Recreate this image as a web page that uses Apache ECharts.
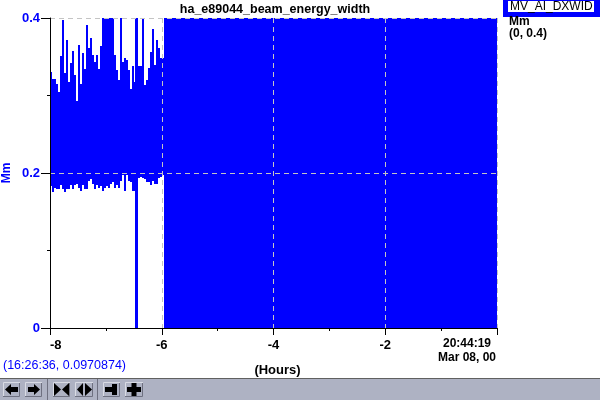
<!DOCTYPE html>
<html><head><meta charset="utf-8">
<style>html,body{margin:0;padding:0;background:#fff}#c{width:600px;height:400px}</style>
<script src="https://cdn.jsdelivr.net/npm/echarts@6/dist/echarts.min.js"></script>
</head><body><div id="c"></div>
<script>
const chartTitle = 'ha_e89044_beam_energy_width';
const xTickLabels = {'-8':'-8','-6':'-6','-4':'-4','-2':'-2'};
const yTickLabels = {'0':'0','0.2':'0.2','0.4':'0.4'};
const columnHours = 0.0358;
const columnHigh = [.330,.321,.321,.315,.305,.351,.397,.329,.372,.318,.342,.357,.327,.293,.365,.315,.355,.334,.391,.361,.374,.352,.343,.352,.334,.364,.400,.400,.400,.400,.400,.400,.352,.333,.320,.400,.343,.348,.346,.333,.309,.338,.317,.400,.338,.338,.400,.313,.320,.335,.356,.386,.339,.372,.361,.348,.348];
const columnLow = [.183,.176,.181,.180,.180,.184,.179,.175,.180,.179,.184,.180,.184,.186,.181,.177,.184,.179,.179,.190,.192,.186,.180,.184,.181,.183,.177,.181,.183,.181,.186,.188,.181,.185,.181,.190,.198,.177,.198,.190,.188,.177,.177,.177,.194,.195,.194,.192,.188,.189,.184,.190,.186,.186,.193,.195,.197];
const dropout = [-6.479,-6.425,0,.4];
const saturated = [-5.96,0,0,.4];
const rows = columnHigh.map((h,i)=>[-8+i*columnHours,-8+(i+1)*columnHours,columnLow[i],h]);
rows.push(dropout,saturated);

const blue='#0000ff', bar='#aeb2c3', hi='#d9dbe4', lo='#6e7080';
const F='"Liberation Sans",Arial,sans-serif';
function btn(x,w){return [
 {type:'rect',shape:{x:x,y:382,width:w,height:15},style:{fill:bar,stroke:null}},
 {type:'polyline',shape:{points:[[x+.5,397],[x+.5,382.5],[x+w,382.5]]},style:{stroke:hi,fill:null,lineWidth:1}},
 {type:'polyline',shape:{points:[[x+w-.5,383],[x+w-.5,396.5],[x,396.5]]},style:{stroke:lo,fill:null,lineWidth:1}}
];}
function poly(p){return {type:'polygon',shape:{points:p},style:{fill:'#000'}};}
const graphics=[
 {type:'rect',shape:{x:0,y:378,width:600,height:22},style:{fill:bar}},
 {type:'rect',shape:{x:0,y:378,width:600,height:1},style:{fill:'#606060'}},
 {type:'rect',shape:{x:47,y:379,width:1,height:21},style:{fill:lo}},
 {type:'rect',shape:{x:97,y:379,width:1,height:21},style:{fill:lo}},
 ...btn(3,17),...btn(25,17),...btn(53,17),...btn(75,18),...btn(103,17),...btn(125,18),
 poly([[5,389.5],[11,384],[11,387],[18,387],[18,392],[11,392],[11,395]]),
 poly([[40,389.5],[34,384],[34,387],[28,387],[28,392],[34,392],[34,395]]),
 poly([[54,383],[61,389.5],[54,396]]), poly([[69,383],[62,389.5],[69,396]]),
 poly([[83,383],[77,389.5],[83,396]]), poly([[85,383],[92,389.5],[85,396]]),
 {type:'rect',shape:{x:105,y:387,width:12,height:5},style:{fill:'#000'}},
 {type:'rect',shape:{x:112,y:384,width:5,height:11},style:{fill:'#000'}},
 {type:'rect',shape:{x:127,y:387,width:14,height:5},style:{fill:'#000'}},
 {type:'rect',shape:{x:131.5,y:383,width:5,height:13},style:{fill:'#000'}},
 {type:'rect',shape:{x:503,y:0,width:97,height:17},style:{fill:blue}},
 {type:'rect',shape:{x:508,y:1,width:86,height:11},style:{fill:'#fff'}},
 {type:'text',style:{x:510,y:7,text:'MV_AI_DXWID',font:'12px '+F,fill:'#000',textVerticalAlign:'middle'}},
 {type:'text',style:{x:509,y:22,text:'Mm',font:'bold 12px '+F,fill:'#000',textVerticalAlign:'middle'}},
 {type:'text',style:{x:509,y:34,text:'(0, 0.4)',font:'bold 12px '+F,fill:'#000',textVerticalAlign:'middle'}},
 {type:'text',style:{x:3,y:366,text:'(16:26:36, 0.0970874)',font:'12.5px '+F,fill:blue,textVerticalAlign:'middle'}},
 {type:'text',style:{x:467,y:344,text:'20:44:19',font:'bold 12px '+F,fill:'#000',textAlign:'center',textVerticalAlign:'middle'}},
 {type:'text',style:{x:467,y:358,text:'Mar 08, 00',font:'bold 12px '+F,fill:'#000',textAlign:'center',textVerticalAlign:'middle'}}
];
const dashes={show:true,showMinLine:true,showMaxLine:true,lineStyle:{color:'#c4c4c4',type:[5,4],width:1}};
const chart=echarts.init(document.getElementById('c'),null,{renderer:'canvas'});
chart.setOption({
 animation:false,
 title:{text:chartTitle,left:270,top:-2,textAlign:'center',textStyle:{fontFamily:F,fontSize:12.5,fontWeight:'bold',color:'#000'}},
 grid:{left:50,top:18,width:447,height:310,outerBoundsMode:'none',containLabel:false},
 xAxis:{type:'value',min:-8,max:0,interval:2,z:5,name:'(Hours)',nameLocation:'middle',nameGap:36,
  nameTextStyle:{fontFamily:F,fontSize:13,fontWeight:'bold',color:'#000',padding:[0,0,0,8]},
  axisLine:{show:true,onZero:false,lineStyle:{color:'#000',width:1}},
  axisTick:{show:true,length:7,lineStyle:{color:'#000'}},
  minorTick:{show:true,splitNumber:2,length:3,lineStyle:{color:'#000'}},
  splitLine:dashes,
  axisLabel:{margin:11,fontFamily:F,fontSize:13,fontWeight:'bold',color:'#000',alignMinLabel:'left',
   formatter:v=>xTickLabels[String(v)]||''}},
 yAxis:{type:'value',min:0,max:.4,interval:.2,z:5,name:'Mm',nameLocation:'middle',nameGap:37,nameMoveOverlap:false,
  nameTextStyle:{fontFamily:F,fontSize:12,fontWeight:'bold',color:blue},
  axisLine:{show:true,onZero:false,lineStyle:{color:'#000',width:1}},
  axisTick:{show:true,length:9,lineStyle:{color:'#000'}},
  minorTick:{show:true,splitNumber:2,length:3,lineStyle:{color:'#000'}},
  splitLine:dashes,
  axisLabel:{margin:10,fontFamily:F,fontSize:13,fontWeight:'bold',color:blue,
   formatter:v=>yTickLabels[String(v)]||''}},
 series:[{type:'custom',z:1,clip:true,silent:true,data:rows,encode:{x:[0,1],y:[2,3]},
  renderItem:(p,api)=>{
   const a=api.coord([api.value(0),api.value(3)]),b=api.coord([api.value(1),api.value(2)]);
   const x0=Math.round(a[0]),x1=Math.round(b[0]),y0=Math.round(a[1]),y1=Math.round(b[1]);
   return {type:'rect',shape:{x:x0,y:y0,width:x1-x0,height:y1-y0},style:{fill:blue}};
  }}],
 graphic:{elements:graphics}
});
</script></body></html>
